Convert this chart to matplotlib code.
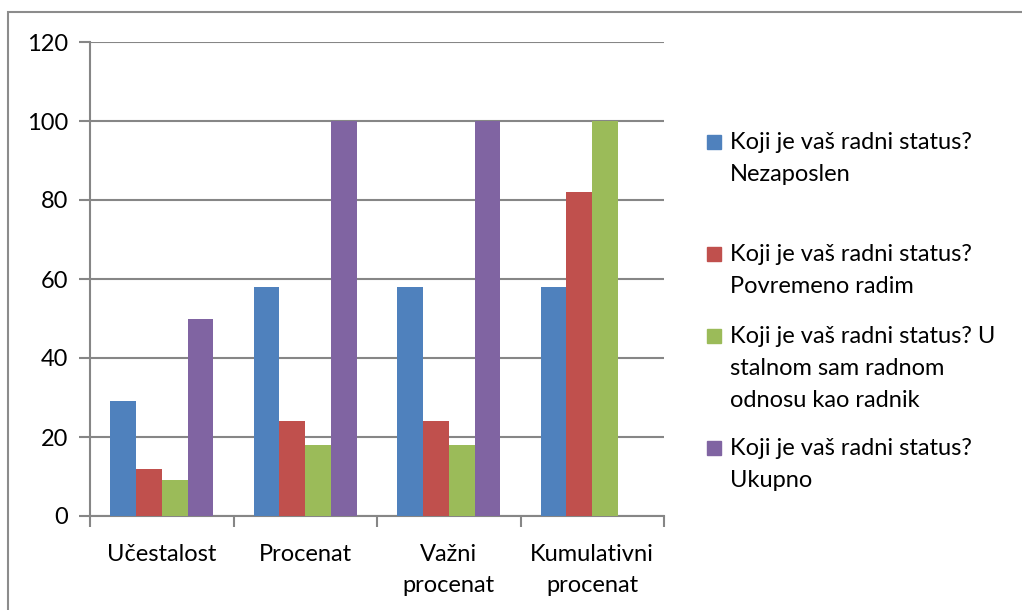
import matplotlib
matplotlib.use("Agg")
import matplotlib.pyplot as plt
from matplotlib.patches import Rectangle
import numpy as np

plt.rcParams['font.family'] = ['Lato', 'DejaVu Sans']

categories = ["Učestalost", "Procenat", "Važni\nprocenat", "Kumulativni\nprocenat"]
series_names = [
    "Koji je vaš radni status?\nNezaposlen",
    "Koji je vaš radni status?\nPovremeno radim",
    "Koji je vaš radni status? U\nstalnom sam radnom\nodnosu kao radnik",
    "Koji je vaš radni status?\nUkupno",
]
nezaposlen = [29, 58, 58, 58]
povremeno = [12, 24, 24, 82]
stalno = [9, 18, 18, 100]
ukupno = [50, 100, 100, 0]
values = [nezaposlen, povremeno, stalno, ukupno]
colors = ['#4F81BD', '#C0504D', '#9BBB59', '#8064A2']

fig = plt.figure(figsize=(10.22, 6.10), dpi=100)
ax = fig.add_axes([90/1022, 1-516/610, 574/1022, 474/610])

x = np.arange(len(categories))
w = 0.18
for i, (vals, c) in enumerate(zip(values, colors)):
    ax.bar(x + (i - 1.5)*w, vals, w, color=c, zorder=3, linewidth=0)

grid_c = '#868686'
fs = 17
ax.set_xlim(-0.5, 3.5)
ax.set_ylim(0, 120)
ax.set_yticks(range(0, 121, 20))
ax.yaxis.grid(True, color=grid_c, linewidth=1.5, zorder=0)
ax.set_xticks(np.arange(-0.5, 4, 1))
ax.set_xticklabels([])
ax.set_xticks(x, minor=True)
ax.set_xticklabels(categories, minor=True, fontsize=fs, linespacing=1.6, va='top')
ax.tick_params(axis='x', which='minor', length=0, pad=20)
ax.tick_params(axis='x', which='major', length=8, color=grid_c, width=1.5)
ax.tick_params(axis='y', length=8, color=grid_c, width=1.5, labelsize=fs, pad=8)
for s in ['top', 'right']:
    ax.spines[s].set_visible(False)
for s in ['left', 'bottom']:
    ax.spines[s].set_color(grid_c)
    ax.spines[s].set_linewidth(1.5)

# outer chart frame
fig.patches.append(Rectangle((8/1022, -0.1), 1.2, (610-12)/610 + 0.1, transform=fig.transFigure,
                             fill=False, edgecolor='#8c8c8c', linewidth=1.5))

# legend
legend_y = [142, 254, 336, 448]
for name, c, yy in zip(series_names, colors, legend_y):
    fig.patches.append(Rectangle((707/1022, 1-(yy+7)/610), 14/1022, 14/610,
                                 transform=fig.transFigure, color=c))
    fig.text(730/1022, 1-(yy-10)/610, name, fontsize=fs, va='top', ha='left',
             linespacing=1.65)

fig.savefig("out.png", dpi=100)
